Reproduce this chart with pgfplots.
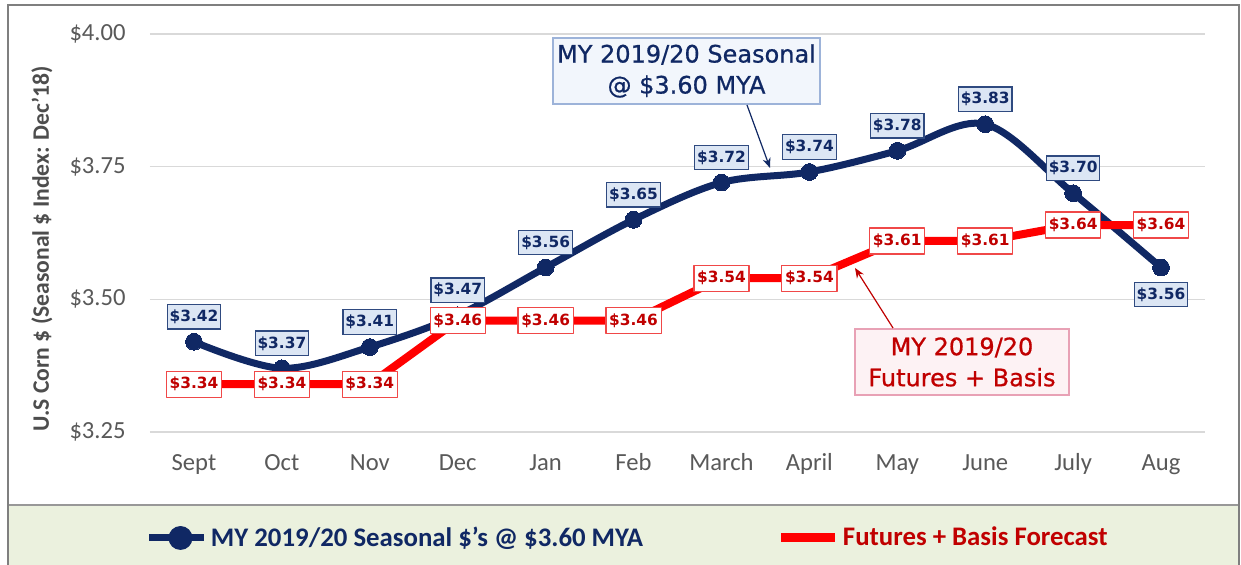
\documentclass[border=0pt]{standalone}
\usepackage{fontspec}
\setmainfont{Carlito}
\newfontfamily\dejavu{DejaVu Sans}
\newfontfamily\dejavumed[FakeBold=0.7]{DejaVu Sans}
\usepackage{pgfplots}
\pgfplotsset{compat=1.18}
\usepackage{pgfplotstable}
\usetikzlibrary{arrows.meta}

\definecolor{navy}{HTML}{102864}
\definecolor{redline}{HTML}{FF0000}
\definecolor{darkred}{HTML}{C00000}
\definecolor{bluelabel}{HTML}{DCE6F4}
\definecolor{bluebord}{HTML}{2F4A80}
\definecolor{redbord}{HTML}{F04848}
\definecolor{boxonefill}{HTML}{F2F6FC}
\definecolor{boxonebord}{HTML}{9DB3D9}
\definecolor{boxtwofill}{HTML}{FDF2F4}
\definecolor{boxtwobord}{HTML}{E8A1B5}
\definecolor{tickgray}{HTML}{595959}
\definecolor{labelgray}{HTML}{4D4D4D}
\definecolor{gridgray}{HTML}{D9D9D9}
\definecolor{legendbg}{HTML}{EBF1DE}
\definecolor{framegray}{HTML}{7F7F7F}

% MY 2019/20 seasonal, dy = label offset in pt
\pgfplotstableread{
x y dy
0 3.42 12.5
1 3.37 12.5
2 3.41 12.5
3 3.47 12.5
4 3.56 12.5
5 3.65 12.5
6 3.72 12.5
7 3.74 12.5
8 3.78 12.5
9 3.83 12.5
10 3.70 12.5
11 3.56 -13.5
}\seasonal

% futures + basis forecast
\pgfplotstableread{
x y
0 3.34
1 3.34
2 3.34
3 3.46
4 3.46
5 3.46
6 3.54
7 3.54
8 3.61
9 3.61
10 3.64
11 3.64
}\futures

\begin{document}
\begin{tikzpicture}
\useasboundingbox (-75pt,-66.5pt) rectangle (545.5pt,216pt);
\fill[white] (-75pt,-66.5pt) rectangle (545.5pt,216pt);
\fill[legendbg] (-71pt,-66.5pt) rectangle (544.5pt,-36.5pt);
\draw[framegray!80, line width=0.6pt] (-71pt,-36.5pt) -- (544.5pt,-36.5pt);
\draw[framegray, line width=1pt] (-71pt,-66.5pt) -- (-71pt,213.5pt) -- (544.5pt,213.5pt) -- (544.5pt,-66.5pt);

\begin{axis}[
  at={(0pt,0pt)}, anchor=south west,
  width=527.5pt, height=199pt, scale only axis,
  xmin=-0.5, xmax=11.5, ymin=3.25, ymax=4.00,
  xtick={0,...,11},
  xticklabels={Sept,Oct,Nov,Dec,Jan,Feb,March,April,May,June,July,Aug},
  ytick={3.25,3.5,3.75,4},
  yticklabel={\$\pgfmathprintnumber[fixed,fixed zerofill,precision=2]{\tick}},
  /pgf/number format/assume math mode=true,
  axis line style={draw=none},
  major tick length=0pt,
  ymajorgrids, grid style={gridgray, line width=0.8pt},
  tick label style={font=\fontsize{12.3}{14}\selectfont, text=tickgray},
  yticklabel style={anchor=east, inner sep=0pt, xshift=-12pt},
  xticklabel style={anchor=base, inner sep=0pt, yshift=-19.5pt},
  ylabel={U.S Corn \$ (Seasonal \$ Index: Dec'18)},
  ylabel style={at={(axis description cs:-0.1024,0.46)}, anchor=center,
    font=\bfseries\fontsize{11.8}{13}\selectfont, text=labelgray},
  clip=false,
  legend style={at={(-0.0038,-0.2663)}, anchor=west, draw=none, fill=none,
    inner sep=0pt, outer sep=0pt, legend columns=2,
    font=\bfseries\fontsize{13.4}{15}\selectfont, nodes={inner sep=0pt},
    /tikz/every odd column/.append style={column sep=1.5pt},
    /tikz/every even column/.append style={column sep=0pt}},
  legend cell align=left,
]
\addplot[navy, line width=3.5pt, smooth, tension=0.55,
  mark=*, mark size=4.2pt, mark options={solid, fill=navy, draw=navy, line width=0pt},
  visualization depends on={\thisrow{dy} \as \dy},
  nodes near coords={\$\pgfmathprintnumber[fixed,fixed zerofill,precision=2]{\pgfplotspointmeta}},
  every node near coord/.append style={anchor=center, yshift=\dy,
    font=\dejavu\bfseries\fontsize{7.7}{8.5}\selectfont, text=navy,
    fill=bluelabel, draw=bluebord, line width=0.6pt,
    inner xsep=1.2pt, inner ysep=0pt, minimum height=12.3pt},
  legend image code/.code={
    \draw[navy, line width=3.5pt] (0pt,0pt) -- (27.5pt,0pt);
    \fill[navy] (15.5pt,0pt) circle (4.2pt);}
] table[x=x, y=y] {\seasonal};
\addlegendentry{\color{navy}\makebox[283pt][l]{MY 2019/20 Seasonal \$'s @ \$3.60 MYA}}

\addplot[redline, line width=4pt, line join=round, mark=none,
  nodes near coords={\$\pgfmathprintnumber[fixed,fixed zerofill,precision=2]{\pgfplotspointmeta}},
  every node near coord/.append style={anchor=center,
    font=\dejavu\bfseries\fontsize{7.7}{8.5}\selectfont, text=darkred,
    fill=white, draw=redbord, line width=0.6pt,
    inner xsep=1.6pt, inner ysep=0pt, minimum height=13pt},
  legend image code/.code={
    \draw[redline, line width=4.5pt] (0pt,0pt) -- (27pt,0pt);}
] table[x=x, y=y] {\futures};
\addlegendentry{\color{darkred}Futures + Basis Forecast}
\end{axis}

\node[draw=boxonebord, fill=boxonefill, line width=0.6pt, minimum width=133.5pt,
  minimum height=33pt, align=center, inner sep=0pt, text=navy,
  font=\dejavumed\fontsize{12}{15.5}\selectfont] at (268.25pt,180.5pt)
  {MY 2019/20 Seasonal\\@ \$3.60 MYA};
\draw[navy, line width=0.6pt, -{Stealth[length=5pt,width=4pt]}]
  (298.5pt,163.5pt) -- (310pt,132pt);

\node[draw=boxtwobord, fill=boxtwofill, line width=0.6pt, minimum width=107pt,
  minimum height=33pt, align=center, inner sep=0pt, text=darkred,
  font=\dejavumed\fontsize{12}{15.5}\selectfont] at (406pt,35pt)
  {MY 2019/20\\Futures + Basis};
\draw[darkred, line width=0.6pt, -{Stealth[length=5pt,width=4pt]}]
  (371.5pt,52pt) -- (352.5pt,82pt);
\end{tikzpicture}
\end{document}
